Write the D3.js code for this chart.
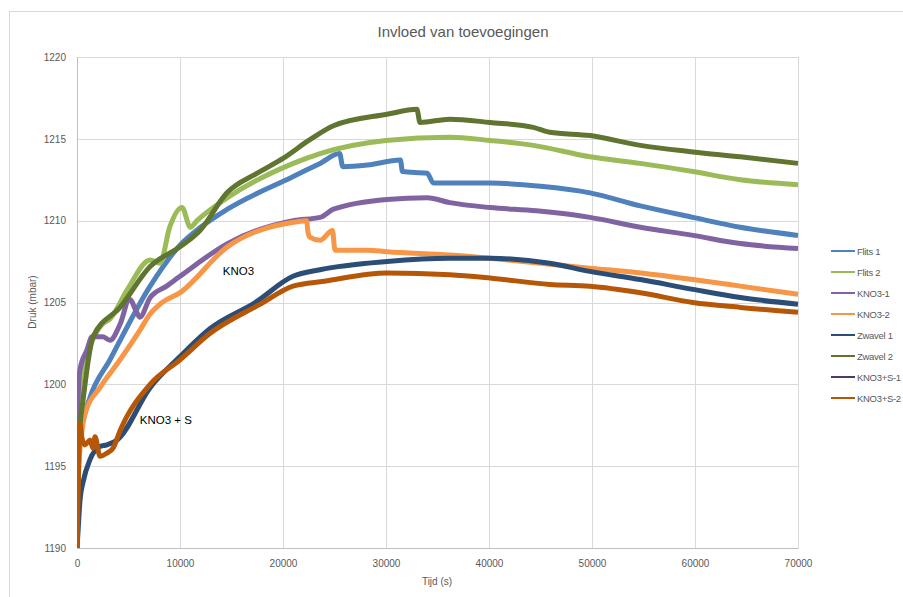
<!DOCTYPE html>
<html><head><meta charset="utf-8">
<script src="https://cdn.jsdelivr.net/npm/d3@7"></script>
<style>body{margin:0;background:#fff;}svg{display:block;font-family:"Liberation Sans",Arial,sans-serif;}</style>
</head><body>
<svg id="c" width="903" height="597"></svg>
<script>
// ---- data (time in s, pressure in mbar) ----
const seriesNames = ["Flits 1","Flits 2","KNO3-1","KNO3-2","Zwavel 1","Zwavel 2","KNO3+S-1","KNO3+S-2"];
const seriesColors = ["#4F81BD","#9BBB59","#8064A2","#F79646","#2C4D75","#5F7530","#4D3B62","#B65708"];
const xTicks = [0,10000,20000,30000,40000,50000,60000,70000];
const yTicks = [1190,1195,1200,1205,1210,1215,1220];

const flits1 = [[0,1190],[150,1195.5],[300,1196.8],[600,1197.8],[1260,1199.2],[3200,1201.5],[7100,1206.0],[10000,1208.5],[12000,1209.6],[14600,1210.7],[21000,1212.7],[23600,1213.5],[25500,1214.1],[25800,1213.3],[28200,1213.4],[31400,1213.7],[31600,1213.0],[34000,1212.9],[34600,1212.3],[40100,1212.3],[45000,1212.1],[49800,1211.7],[54700,1210.9],[59800,1210.2],[64400,1209.6],[70000,1209.1]];
const flits2 = [[0,1190],[100,1196],[250,1199.5],[580,1201.1],[1500,1202.7],[2500,1203.7],[3200,1204.0],[4900,1205.8],[7100,1207.6],[8060,1207.4],[9000,1209.6],[10200,1210.8],[11000,1209.6],[11650,1210.0],[14600,1211.4],[21000,1213.5],[23600,1214.1],[30000,1214.9],[36200,1215.1],[40100,1214.9],[44300,1214.6],[49800,1213.9],[54700,1213.5],[59800,1213.0],[64400,1212.5],[70000,1212.2]];
const kno3_1 = [[0,1190],[100,1199.0],[290,1200.9],[970,1202.1],[1460,1202.9],[2500,1202.9],[3200,1202.7],[4200,1203.7],[5100,1205.2],[5800,1204.4],[6100,1204.1],[7100,1205.3],[8700,1206.0],[10000,1206.6],[14600,1208.6],[21000,1210.0],[23600,1210.2],[24900,1210.7],[30100,1211.3],[34000,1211.4],[36200,1211.1],[40100,1210.8],[44600,1210.6],[49800,1210.2],[54700,1209.6],[59800,1209.1],[64400,1208.6],[70000,1208.3]];
const kno3_2 = [[0,1190],[100,1194],[485,1197.2],[780,1198.2],[2230,1199.8],[4180,1201.5],[6100,1203.3],[7100,1204.3],[8060,1204.9],[10000,1205.6],[14600,1208.4],[21000,1209.9],[22300,1210.0],[22400,1209.4],[22600,1209.0],[23600,1208.8],[24800,1209.4],[25050,1208.2],[28200,1208.2],[30100,1208.1],[36200,1207.9],[40100,1207.7],[45000,1207.4],[49800,1207.1],[54700,1206.8],[59800,1206.4],[64400,1206.0],[70000,1205.5]];
const zwavel1 = [[0,1190],[100,1191],[290,1192.9],[580,1194.0],[1260,1195.4],[2230,1196.2],[2900,1196.3],[3900,1196.6],[7100,1199.8],[10000,1201.7],[12900,1203.4],[17300,1205.0],[20970,1206.6],[23600,1207.0],[30100,1207.5],[36200,1207.7],[40100,1207.7],[45900,1207.4],[49800,1206.9],[54700,1206.4],[59800,1205.8],[64400,1205.3],[70000,1204.9]];
const zwavel2 = [[0,1190],[100,1195],[300,1197.5],[580,1199.0],[1260,1202.1],[1550,1202.9],[4180,1204.7],[7100,1207.2],[10000,1208.4],[11940,1209.4],[14560,1211.7],[17500,1212.9],[20000,1213.8],[22500,1214.9],[24900,1215.8],[30100,1216.5],[33000,1216.8],[33300,1216.0],[36200,1216.2],[40100,1216.0],[44300,1215.7],[45900,1215.4],[49800,1215.2],[54700,1214.6],[59800,1214.2],[64400,1213.9],[70000,1213.5]];
const kno3s_1 = []; // not visible in the reference (hidden under KNO3+S-2)
const kno3s_2 = [[0,1190],[100,1193],[290,1197.6],[485,1196.7],[780,1196.3],[1260,1196.6],[1550,1196.1],[1750,1196.8],[2230,1195.6],[2900,1195.8],[3500,1196.1],[4200,1197.2],[7100,1200.0],[10000,1201.5],[12900,1203.1],[17800,1204.9],[20970,1206.0],[24000,1206.3],[30100,1206.8],[36200,1206.7],[40100,1206.5],[45900,1206.1],[49800,1206.0],[54700,1205.6],[59800,1205.0],[64400,1204.7],[70000,1204.4]];
const seriesData = [flits1,flits2,kno3_1,kno3_2,zwavel1,zwavel2,kno3s_1,kno3s_2];

const annotations = [{text:"KNO3", t:14150, v:1206.7},{text:"KNO3 + S", t:6100, v:1197.6}];

// ---- layout ----
const svg = d3.select("#c");
const L = 77, R = 798, T = 57, B = 548;
const x = d3.scaleLinear().domain([0,70000]).range([L,R]);
const y = d3.scaleLinear().domain([1190,1220]).range([B,T]);
const grey = "#595959";

// outer chart frame
svg.append("rect").attr("x",9.5).attr("y",11.5).attr("width",920).attr("height",620)
  .attr("fill","none").attr("stroke","#d9d9d9");

// gridlines
const g = svg.append("g");
g.selectAll("line.h").data(yTicks).join("line")
  .attr("x1",L).attr("x2",R).attr("y1",d=>Math.round(y(d))+0.5).attr("y2",d=>Math.round(y(d))+0.5)
  .attr("stroke","#d9d9d9");
g.selectAll("line.v").data(xTicks).join("line")
  .attr("y1",T).attr("y2",B).attr("x1",d=>Math.round(x(d))+0.5).attr("x2",d=>Math.round(x(d))+0.5)
  .attr("stroke","#d9d9d9");

// axes
const xAxis = svg.append("g").attr("transform",`translate(0,${B})`)
  .call(d3.axisBottom(x).tickValues(xTicks).tickFormat(d3.format("d")).tickSize(0).tickPadding(12));
xAxis.select(".domain").attr("stroke","#bfbfbf");
xAxis.selectAll("text").attr("fill",grey).attr("font-size","10px");
const yAxis = svg.append("g").attr("transform",`translate(${L},0)`)
  .call(d3.axisLeft(y).tickValues(yTicks).tickFormat(d3.format("d")).tickSize(0).tickPadding(11));
yAxis.select(".domain").attr("stroke","#bfbfbf");
yAxis.selectAll("text").attr("fill",grey).attr("font-size","10px");

// clip
svg.append("clipPath").attr("id","pc").append("rect")
  .attr("x",L).attr("y",T-5).attr("width",R-L+3).attr("height",B-T+5);

// lines
const line = d3.line().x(d=>x(d[0])).y(d=>y(d[1])).curve(d3.curveMonotoneX);
svg.append("g").attr("clip-path","url(#pc)").selectAll("path")
  .data(seriesData).join("path")
  .attr("d",d=>d.length?line(d):null)
  .attr("fill","none")
  .attr("stroke",(d,i)=>seriesColors[i])
  .attr("stroke-width",5)
  .attr("stroke-linejoin","round");

// annotations
svg.selectAll("text.ann").data(annotations).join("text")
  .attr("class","ann").attr("x",d=>x(d.t)).attr("y",d=>y(d.v))
  .attr("font-size","11.5px").attr("fill","#000").text(d=>d.text);

// title
svg.append("text").attr("x",463).attr("y",37).attr("text-anchor","middle")
  .attr("font-size","15px").attr("fill",grey).text("Invloed van toevoegingen");

// axis titles
svg.append("text").attr("x",437).attr("y",585).attr("text-anchor","middle")
  .attr("font-size","10px").attr("fill",grey).text("Tijd (s)");
svg.append("text").attr("transform","translate(36,302) rotate(-90)").attr("text-anchor","middle")
  .attr("font-size","10px").attr("fill",grey).text("Druk (mbar)");

// legend
const lg = svg.append("g").selectAll("g").data(seriesNames).join("g")
  .attr("transform",(d,i)=>`translate(831,${251 + i*21})`);
lg.append("line").attr("x1",0).attr("x2",24).attr("y1",0).attr("y2",0)
  .attr("stroke",(d,i)=>seriesColors[i]).attr("stroke-width",2);
lg.append("text").attr("x",26).attr("y",3.5).attr("font-size","9.5px").attr("letter-spacing","-0.3px")
  .attr("fill",grey).text(d=>d);
</script>
</body></html>
